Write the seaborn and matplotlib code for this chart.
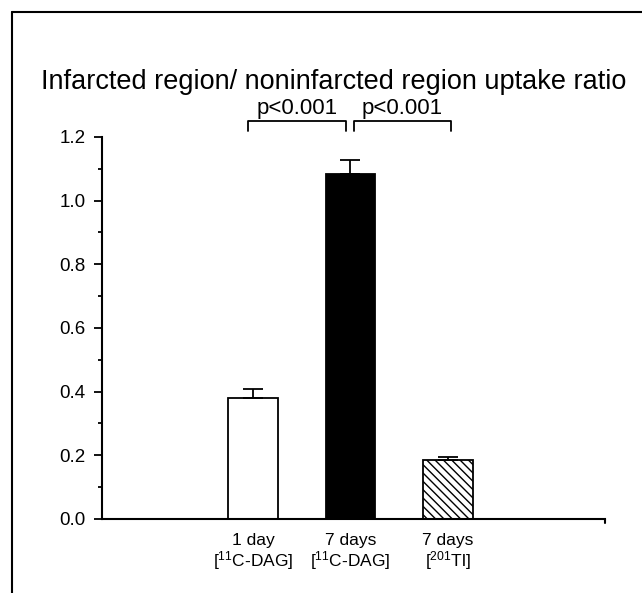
import pandas as pd
import matplotlib
matplotlib.use("Agg")
import matplotlib.pyplot as plt
from matplotlib.lines import Line2D
from matplotlib.ticker import MultipleLocator
import seaborn as sns

sns.set_style("ticks")
plt.rcParams["font.family"] = ["Liberation Sans", "DejaVu Sans"]
plt.rcParams["mathtext.default"] = "regular"
plt.rcParams["hatch.linewidth"] = 1.0
plt.rcParams["text.color"] = "black"
plt.rcParams["xtick.color"] = "black"
plt.rcParams["ytick.color"] = "black"
plt.rcParams["axes.edgecolor"] = "black"

# data
groups = ["1 day\n[$^{11}$C-DAG]", "7 days\n[$^{11}$C-DAG]", "7 days\n[$^{201}$Tl]"]
ratios = [0.38, 1.085, 0.185]
errors = [0.027, 0.042, 0.01]
colors = ["white", "black", "white"]
hatches = ["", "", "\\\\\\\\"]
pvalues = ["p<0.001", "p<0.001"]
brackets = [(-0.05, 0.95), (1.04, 2.03)]

df = pd.DataFrame({"group": groups, "ratio": ratios})

fig = plt.figure(figsize=(6.42, 5.93), dpi=100)
ax = fig.add_axes([0.159, 0.125, 0.783, 0.644])

sns.barplot(data=df, x="group", y="ratio", ax=ax, width=0.51,
            palette=colors, hue="group", legend=False,
            edgecolor="black", linewidth=1.3, errorbar=None)
for bar, h in zip(ax.patches, hatches):
    bar.set_hatch(h)

# one-sided error bars
ax.errorbar(range(len(ratios)), ratios, yerr=[[0] * len(errors), errors],
            fmt="none", ecolor="black", elinewidth=1.3, capsize=7, capthick=1.3)

ax.set_xlim(-1.55, 3.61)
ax.set_ylim(0, 1.2)
ax.yaxis.set_major_locator(MultipleLocator(0.2))
ax.yaxis.set_minor_locator(MultipleLocator(0.1))
ax.set_yticklabels([f"{v:.1f}" for v in ax.get_yticks()])
ax.tick_params(axis="y", which="major", length=6, width=1.3, labelsize=13.5, pad=6)
ax.tick_params(axis="y", which="minor", length=3, width=1.3)
ax.tick_params(axis="x", length=0, labelsize=12.5, pad=10)
for lab in ax.get_xticklabels():
    lab.set_linespacing(1.05)
ax.set_xlabel("")
ax.set_ylabel("")
sns.despine(ax=ax)
for s in ["left", "bottom"]:
    ax.spines[s].set_linewidth(1.5)
ax.plot([3.61, 3.61], [0, -0.012], color="black", lw=1.5, clip_on=False)

# significance brackets
for (x0, x1), p in zip(brackets, pvalues):
    ax.plot([x0, x0, x1, x1], [1.22, 1.25, 1.25, 1.22], color="black", lw=1.3,
            clip_on=False)
    ax.text((x0 + x1) / 2, 1.256, p, ha="center", va="bottom", fontsize=16)

fig.text(0.52, 0.862, "Infarcted region/ noninfarcted region uptake ratio",
         ha="center", va="center", fontsize=19.5)

# frame around the figure
fig.add_artist(Line2D([0.019, 0.019], [0, 0.98], color="black", lw=1.5))
fig.add_artist(Line2D([0.019, 1.0], [0.98, 0.98], color="black", lw=1.5))

fig.savefig("out.png", dpi=100)
